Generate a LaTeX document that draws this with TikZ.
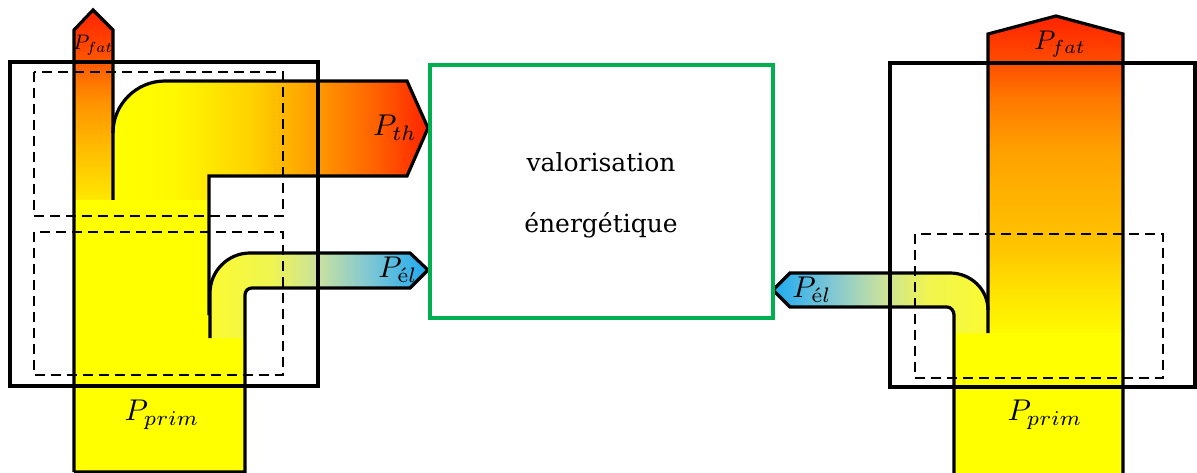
\documentclass[tikz,border=0pt]{standalone}
\usepackage{amsmath}
\usepackage{fontspec}
\newfontfamily\boxfont{DejaVu Serif}

\definecolor{yel}{RGB}{255,255,0}
\definecolor{boxgreen}{RGB}{0,176,80}
\definecolor{elblue}{RGB}{30,170,240}

\pgfdeclareverticalshading{fatL}{100bp}{%
 color(0bp)=(yel); color(25bp)=(rgb,255:red,255;green,232;blue,0); color(38bp)=(rgb,255:red,255;green,190;blue,0);
 color(51bp)=(rgb,255:red,255;green,145;blue,0); color(62bp)=(rgb,255:red,255;green,85;blue,0);
 color(75bp)=(rgb,255:red,255;green,35;blue,0); color(100bp)=(rgb,255:red,255;green,35;blue,0)}
\pgfdeclareverticalshading{fatR}{100bp}{%
 color(0bp)=(yel); color(25bp)=(rgb,255:red,255;green,250;blue,0); color(32bp)=(rgb,255:red,255;green,225;blue,0);
 color(38bp)=(rgb,255:red,255;green,198;blue,0); color(46bp)=(rgb,255:red,255;green,180;blue,0);
 color(54bp)=(rgb,255:red,255;green,160;blue,0); color(62bp)=(rgb,255:red,255;green,120;blue,0);
 color(68bp)=(rgb,255:red,255;green,75;blue,0); color(75bp)=(rgb,255:red,255;green,35;blue,0);
 color(100bp)=(rgb,255:red,255;green,35;blue,0)}
\pgfdeclarehorizontalshading{thshade}{100bp}{%
 color(0bp)=(yel); color(25bp)=(yel); color(35bp)=(rgb,255:red,255;green,248;blue,0);
 color(47bp)=(rgb,255:red,255;green,210;blue,0); color(58bp)=(rgb,255:red,255;green,150;blue,0);
 color(67bp)=(rgb,255:red,255;green,95;blue,0); color(75bp)=(rgb,255:red,255;green,35;blue,0);
 color(100bp)=(rgb,255:red,255;green,35;blue,0)}
\pgfdeclarehorizontalshading{elL}{100bp}{%
 color(0bp)=(rgb,255:red,250;green,250;blue,50); color(25bp)=(rgb,255:red,250;green,250;blue,50);
 color(39bp)=(rgb,255:red,240;green,245;blue,80); color(50bp)=(rgb,255:red,200;green,225;blue,160);
 color(61bp)=(rgb,255:red,130;green,200;blue,210); color(75bp)=(elblue); color(100bp)=(elblue)}
\pgfdeclarehorizontalshading{elR}{100bp}{%
 color(0bp)=(elblue); color(25bp)=(elblue); color(39bp)=(rgb,255:red,130;green,200;blue,210);
 color(50bp)=(rgb,255:red,200;green,225;blue,160); color(61bp)=(rgb,255:red,240;green,245;blue,80);
 color(75bp)=(rgb,255:red,250;green,250;blue,50); color(100bp)=(rgb,255:red,250;green,250;blue,50)}

\begin{document}
\begin{tikzpicture}[x=1pt,y=-1pt,
  flowline/.style={line width=3.2pt, line join=miter},
  outerbox/.style={line width=4pt},
  dashbox/.style={line width=2.4pt, dash pattern=on 10pt off 6pt},
  greenbox/.style={draw=boxgreen, line width=3.4pt},
  boxtxt/.style={font=\boxfont\fontsize{25}{30}\selectfont, inner sep=0pt},
  lab/.style={inner sep=0pt, scale=3.0},
  labsmall/.style={inner sep=0pt, scale=2.1}]
\useasboundingbox (0,0) rectangle (1197,473);

% ---------- left system: fills ----------
\shade[shading=fatL] (74,200) -- (74,30) -- (93,10) -- (113,30) -- (113,200) -- cycle;
\shade[shading=thshade] (113,200) -- (113,133) .. controls (113,104.3) and (136.3,81) .. (165,81)
   -- (407,81) -- (428,128) -- (407,176) -- (209,176) -- (209,200) -- cycle;
\fill[yel] (74,200) -- (209,200) -- (209,338) -- (245,338) -- (245,472) -- (74,472) -- cycle;
\shade[shading=elL] (210,338) -- (210,293) .. controls (210,271) and (228,253) .. (250,253)
   -- (410,253) -- (428,270) -- (410,288) -- (252,288) .. controls (248,288) and (245,291) .. (245,295)
   -- (245,338) -- cycle;

% ---------- left system: outlines ----------
\draw[flowline] (74,472) -- (74,30) -- (93,10) -- (113,30) -- (113,200);
\draw[flowline] (113,133) .. controls (113,104.3) and (136.3,81) .. (165,81)
   -- (407,81) -- (428,128) -- (407,176) -- (209,176) -- (209,315);
\draw[flowline] (210,338) -- (210,293) .. controls (210,271) and (228,253) .. (250,253)
   -- (410,253) -- (428,270) -- (410,288) -- (252,288) .. controls (248,288) and (245,291) .. (245,295)
   -- (245,472) -- (74,472);

% ---------- right system: fills ----------
\shade[shading=fatR] (988,333) -- (988,34) -- (1056,16) -- (1123,34) -- (1123,333) -- cycle;
\fill[yel] (954,333) -- (1123,333) -- (1123,480) -- (954,480) -- cycle;
\shade[shading=elR] (988,333) -- (988,310) .. controls (988,289.3) and (970.7,273) .. (950,273)
   -- (790,273) -- (773,290) -- (790,307) -- (947,307) .. controls (951,307) and (954,311) .. (954,315)
   -- (954,333) -- cycle;

% ---------- right system: outlines ----------
\draw[flowline] (988,333) -- (988,34) -- (1056,16) -- (1123,34) -- (1123,480);
\draw[flowline] (988,310) .. controls (988,289.3) and (970.7,273) .. (950,273)
   -- (790,273) -- (773,290) -- (790,307) -- (947,307) .. controls (951,307) and (954,311) .. (954,315)
   -- (954,480);

% ---------- boxes ----------
\draw[dashbox] (34,72) rectangle (283,216);
\draw[dashbox] (34,232) rectangle (283,375);
\draw[outerbox] (10,62) rectangle (318,386);
\draw[dashbox] (915,234) rectangle (1163,378);
\draw[outerbox] (890,63) rectangle (1195,387);
\draw[greenbox] (430,65) rectangle (773,318);

% ---------- texts ----------
\node[boxtxt] (v1) at (601,162) {valorisation};
\node[boxtxt] (v2) at (601,225) {énergétique};

\node[labsmall] (pfatL) at (93,45) {$P_{fat}$};
\node[lab] (pth) at (395,128) {$P_{th}$};
\node[lab] (pelL) at (398,270) {$P_{\text{é}l}$};
\node[lab] (pprimL) at (162,415) {$P_{prim}$};
\node[lab, scale=0.9] (pfatR) at (1060,44) {$P_{fat}$};
\node[lab] (pelR) at (812,290) {$P_{\text{é}l}$};
\node[lab] (pprimR) at (1045,415) {$P_{prim}$};
\end{tikzpicture}
\end{document}
